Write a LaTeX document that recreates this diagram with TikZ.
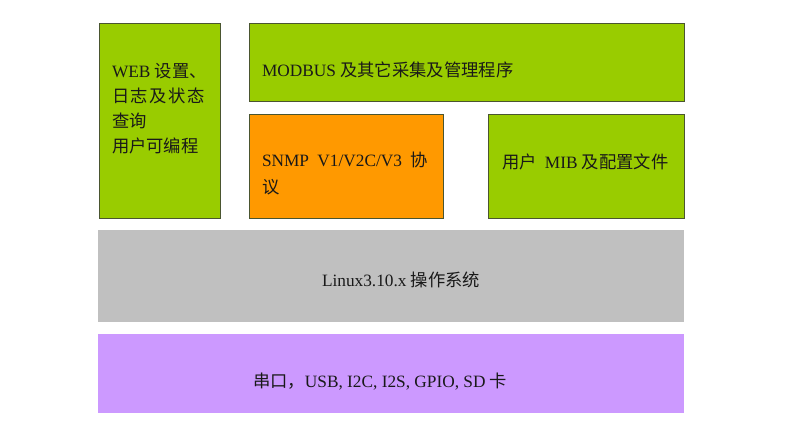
\documentclass[tikz,border=0pt]{standalone}
\usepackage{fontspec}
\setmainfont{Liberation Serif}
\newfontfamily\cjkfont{Noto Sans CJK SC}
\newcommand\zh[1]{{\cjkfont #1}}
\definecolor{lgreen}{HTML}{99CC00}
\definecolor{lorange}{HTML}{FF9900}
\definecolor{lgray}{HTML}{C0C0C0}
\definecolor{lpurple}{HTML}{CC99FF}
\definecolor{edge}{HTML}{4A5530}
\begin{document}
\begin{tikzpicture}[x=1pt,y=-1pt,
  layer/.style={anchor=north west,inner sep=0,outer sep=0},
  greenbox/.style={layer,fill=lgreen,draw=edge,line width=0.9pt},
  orangebox/.style={layer,fill=lorange,draw=edge,line width=0.9pt},
  graybox/.style={layer,fill=lgray},
  purplebox/.style={layer,fill=lpurple},
  txt/.style={inner sep=0,outer sep=0,font=\fontsize{17.3}{25}\selectfont,text=black!90}]
\useasboundingbox (0,0) rectangle (801,442);
\node[greenbox,minimum width=121pt,minimum height=195pt] (web) at (99,23) {};
\node[greenbox,minimum width=435pt,minimum height=78pt] (modbus) at (249,23) {};
\node[orangebox,minimum width=194pt,minimum height=104pt] (snmp) at (249,114) {};
\node[greenbox,minimum width=196pt,minimum height=104pt] (mib) at (488,114) {};
\node[graybox,minimum width=586pt,minimum height=92pt] (linux) at (98,230) {};
\node[purplebox,minimum width=586pt,minimum height=79pt] (io) at (98,334) {};
\node[txt,anchor=west,align=left] (webtext) at (112,108.5)
  {WEB \zh{设置、}\\\zh{日\hspace{1.5pt}志\hspace{1.5pt}及\hspace{1.5pt}状\hspace{1.5pt}态}\\\zh{查询}\\\zh{用户可编程}};
\node[txt,anchor=west] (modbustext) at (262,70) {MODBUS \zh{及其它采集及管理程序}};
\node[txt,anchor=west,align=left,font=\fontsize{17.3}{27}\selectfont] (snmptext) at (262,173.5)
  {SNMP\hspace{4pt} V1/V2C/V3\hspace{4pt} \zh{协}\\\zh{议}};
\node[txt,anchor=west] (mibtext) at (502,162) {\zh{用户}\hspace{4pt} MIB \zh{及配置文件}};
\node[txt,anchor=west] (linuxtext) at (322,280) {Linux3.10.x \zh{操作系统}};
\node[txt,anchor=west] (iotext) at (253,382) {\zh{串口，}USB, I2C, I2S, GPIO, SD \zh{卡}};
\end{tikzpicture}
\end{document}
